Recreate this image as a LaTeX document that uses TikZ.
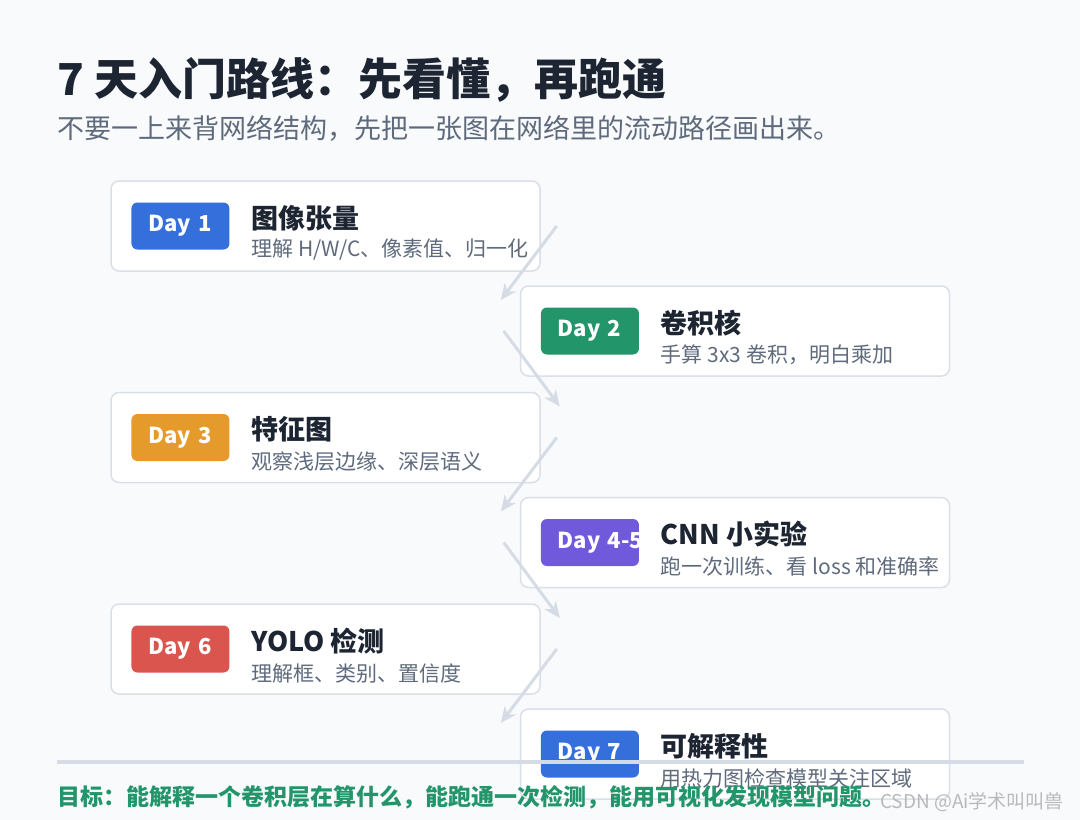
\documentclass[tikz,border=0pt]{standalone}
\usepackage{fontspec}
\setmainfont{Noto Sans CJK SC}
\usepackage{xcolor}
\usetikzlibrary{arrows.meta, positioning, calc}

\definecolor{pagebg}{HTML}{F8FAFC}
\definecolor{cardline}{HTML}{D9E0E8}
\definecolor{inkdark}{HTML}{1E2532}
\definecolor{inkgray}{HTML}{5F6B7D}
\definecolor{flowgray}{HTML}{D5DCE5}
\definecolor{dayblue}{HTML}{356FDB}
\definecolor{daygreen}{HTML}{23956A}
\definecolor{dayorange}{HTML}{E49B2C}
\definecolor{daypurple}{HTML}{7059DB}
\definecolor{dayred}{HTML}{DB554F}
\definecolor{markgray}{HTML}{B9B9B9}

\begin{document}
\begin{tikzpicture}[
    x=1pt, y=-1pt,
    card/.style={
      rectangle, draw=cardline, fill=white, line width=1.5pt,
      rounded corners=8pt, minimum width=429pt, minimum height=90pt
    },
    badge/.style={
      rectangle, rounded corners=6pt, fill=#1, text=white,
      font=\fontsize{22}{26}\selectfont\bfseries,
      minimum height=47pt, inner xsep=17pt, inner ysep=0pt,
      text width=64pt, align=left
    },
    badge/.default=dayblue,
    ttl/.style={font=\fontsize{27}{32}\selectfont\bfseries, text=inkdark,
                inner sep=0pt, anchor=west},
    sub/.style={font=\fontsize{21}{25}\selectfont, text=inkgray,
                inner sep=0pt, anchor=west},
    flow/.style={-{Stealth[length=16pt, width=14pt, inset=5pt]},
                 draw=flowgray, line width=3pt},
  ]

  %% -- page and heading ------------------------------------------------
  \fill[pagebg] (0,0) rectangle (1080,820);
  \useasboundingbox (0,0) rectangle (1080,820);

  \node[inner sep=0pt, anchor=west, text=inkdark,
        font=\fontsize{44}{50}\selectfont\bfseries] (title) at (57,80)
        {7 天入门路线：先看懂，再跑通};
  \node[inner sep=0pt, anchor=west, text=inkgray,
        font=\fontsize{27}{32}\selectfont] (lead) at (57,128)
        {不要一上来背网络结构，先把一张图在网络里的流动路径画出来。};

  %% -- cards: left column ---------------------------------------------
  \node[card] (card1) at (325.5,226) {};
  \node[card, below=120pt of card1] (card3) {};
  \node[card, below=120pt of card3] (card6) {};

  %% -- cards: right column --------------------------------------------
  \node[card] (card2) at ($(card1)+(409.5,105)$) {};
  \node[card, below=120pt of card2] (card45) {};
  \node[card, below=120pt of card45] (card7) {};

  %% -- badges ------------------------------------------------------------
  \node[badge=dayblue,   right=21pt of card1.west]  (b1)  {Day 1};
  \node[badge=daygreen,  right=21pt of card2.west]  (b2)  {Day 2};
  \node[badge=dayorange, right=21pt of card3.west]  (b3)  {Day 3};
  \node[badge=daypurple, right=21pt of card45.west] (b45) {\mbox{Day 4-5}};
  \node[badge=dayred,    right=21pt of card6.west]  (b6)  {Day 6};
  \node[badge=dayblue,   right=21pt of card7.west]  (b7)  {Day 7};

  %% -- card texts --------------------------------------------------------
  \node[ttl] (t1)  at ($(card1.west)+(141,-8)$)  {图像张量};
  \node[sub] (s1)  at ($(card1.west)+(141,24)$)  {理解 H/W/C、像素值、归一化};
  \node[ttl] (t2)  at ($(card2.west)+(141,-8)$)  {卷积核};
  \node[sub] (s2)  at ($(card2.west)+(141,24)$)  {手算 3x3 卷积，明白乘加};
  \node[ttl] (t3)  at ($(card3.west)+(141,-8)$)  {特征图};
  \node[sub] (s3)  at ($(card3.west)+(141,24)$)  {观察浅层边缘、深层语义};
  \node[ttl] (t45) at ($(card45.west)+(141,-8)$) {CNN 小实验};
  \node[sub] (s45) at ($(card45.west)+(141,24)$) {跑一次训练、看 loss 和准确率};
  \node[ttl] (t6)  at ($(card6.west)+(141,-8)$)  {YOLO 检测};
  \node[sub] (s6)  at ($(card6.west)+(141,24)$)  {理解框、类别、置信度};
  \node[ttl] (t7)  at ($(card7.west)+(141,-8)$)  {可解释性};
  \node[sub] (s7)  at ($(card7.west)+(141,24)$)  {用热力图检查模型关注区域};

  %% -- zig-zag arrows ----------------------------------------------------
  \coordinate (a1s) at ($(card1.east)+(16,0)$);
  \coordinate (a1e) at ($(card2.west)+(-19,-31)$);
  \coordinate (a2s) at ($(card2.west)+(-16,0)$);
  \coordinate (a2e) at ($(card3.east)+(19,-31)$);
  \coordinate (a3s) at ($(card3.east)+(16,0)$);
  \coordinate (a3e) at ($(card45.west)+(-19,-31)$);
  \coordinate (a4s) at ($(card45.west)+(-16,0)$);
  \coordinate (a4e) at ($(card6.east)+(19,-31)$);
  \coordinate (a5s) at ($(card6.east)+(16,0)$);
  \coordinate (a5e) at ($(card7.west)+(-19,-31)$);
  \draw[flow] (a1s) -- (a1e);
  \draw[flow] (a2s) -- (a2e);
  \draw[flow] (a3s) -- (a3e);
  \draw[flow] (a4s) -- (a4e);
  \draw[flow] (a5s) -- (a5e);

  %% -- footer ------------------------------------------------------------
  \coordinate (ruleL) at (57,762);
  \coordinate (ruleR) at (1024,762);
  \draw[flowgray, line width=4pt] (ruleL) -- (ruleR);
  \node[inner sep=0pt, anchor=west, text=daygreen,
        font=\fontsize{23}{27}\selectfont\bfseries] (goal) at (57,797)
        {目标：能解释一个卷积层在算什么，能跑通一次检测，能用可视化发现模型问题。};
  \node[inner sep=0pt, anchor=west, text=markgray,
        font=\fontsize{19}{23}\selectfont] (wmark) at (880,802)
        {CSDN @Ai学术叫叫兽};

\end{tikzpicture}
\end{document}
